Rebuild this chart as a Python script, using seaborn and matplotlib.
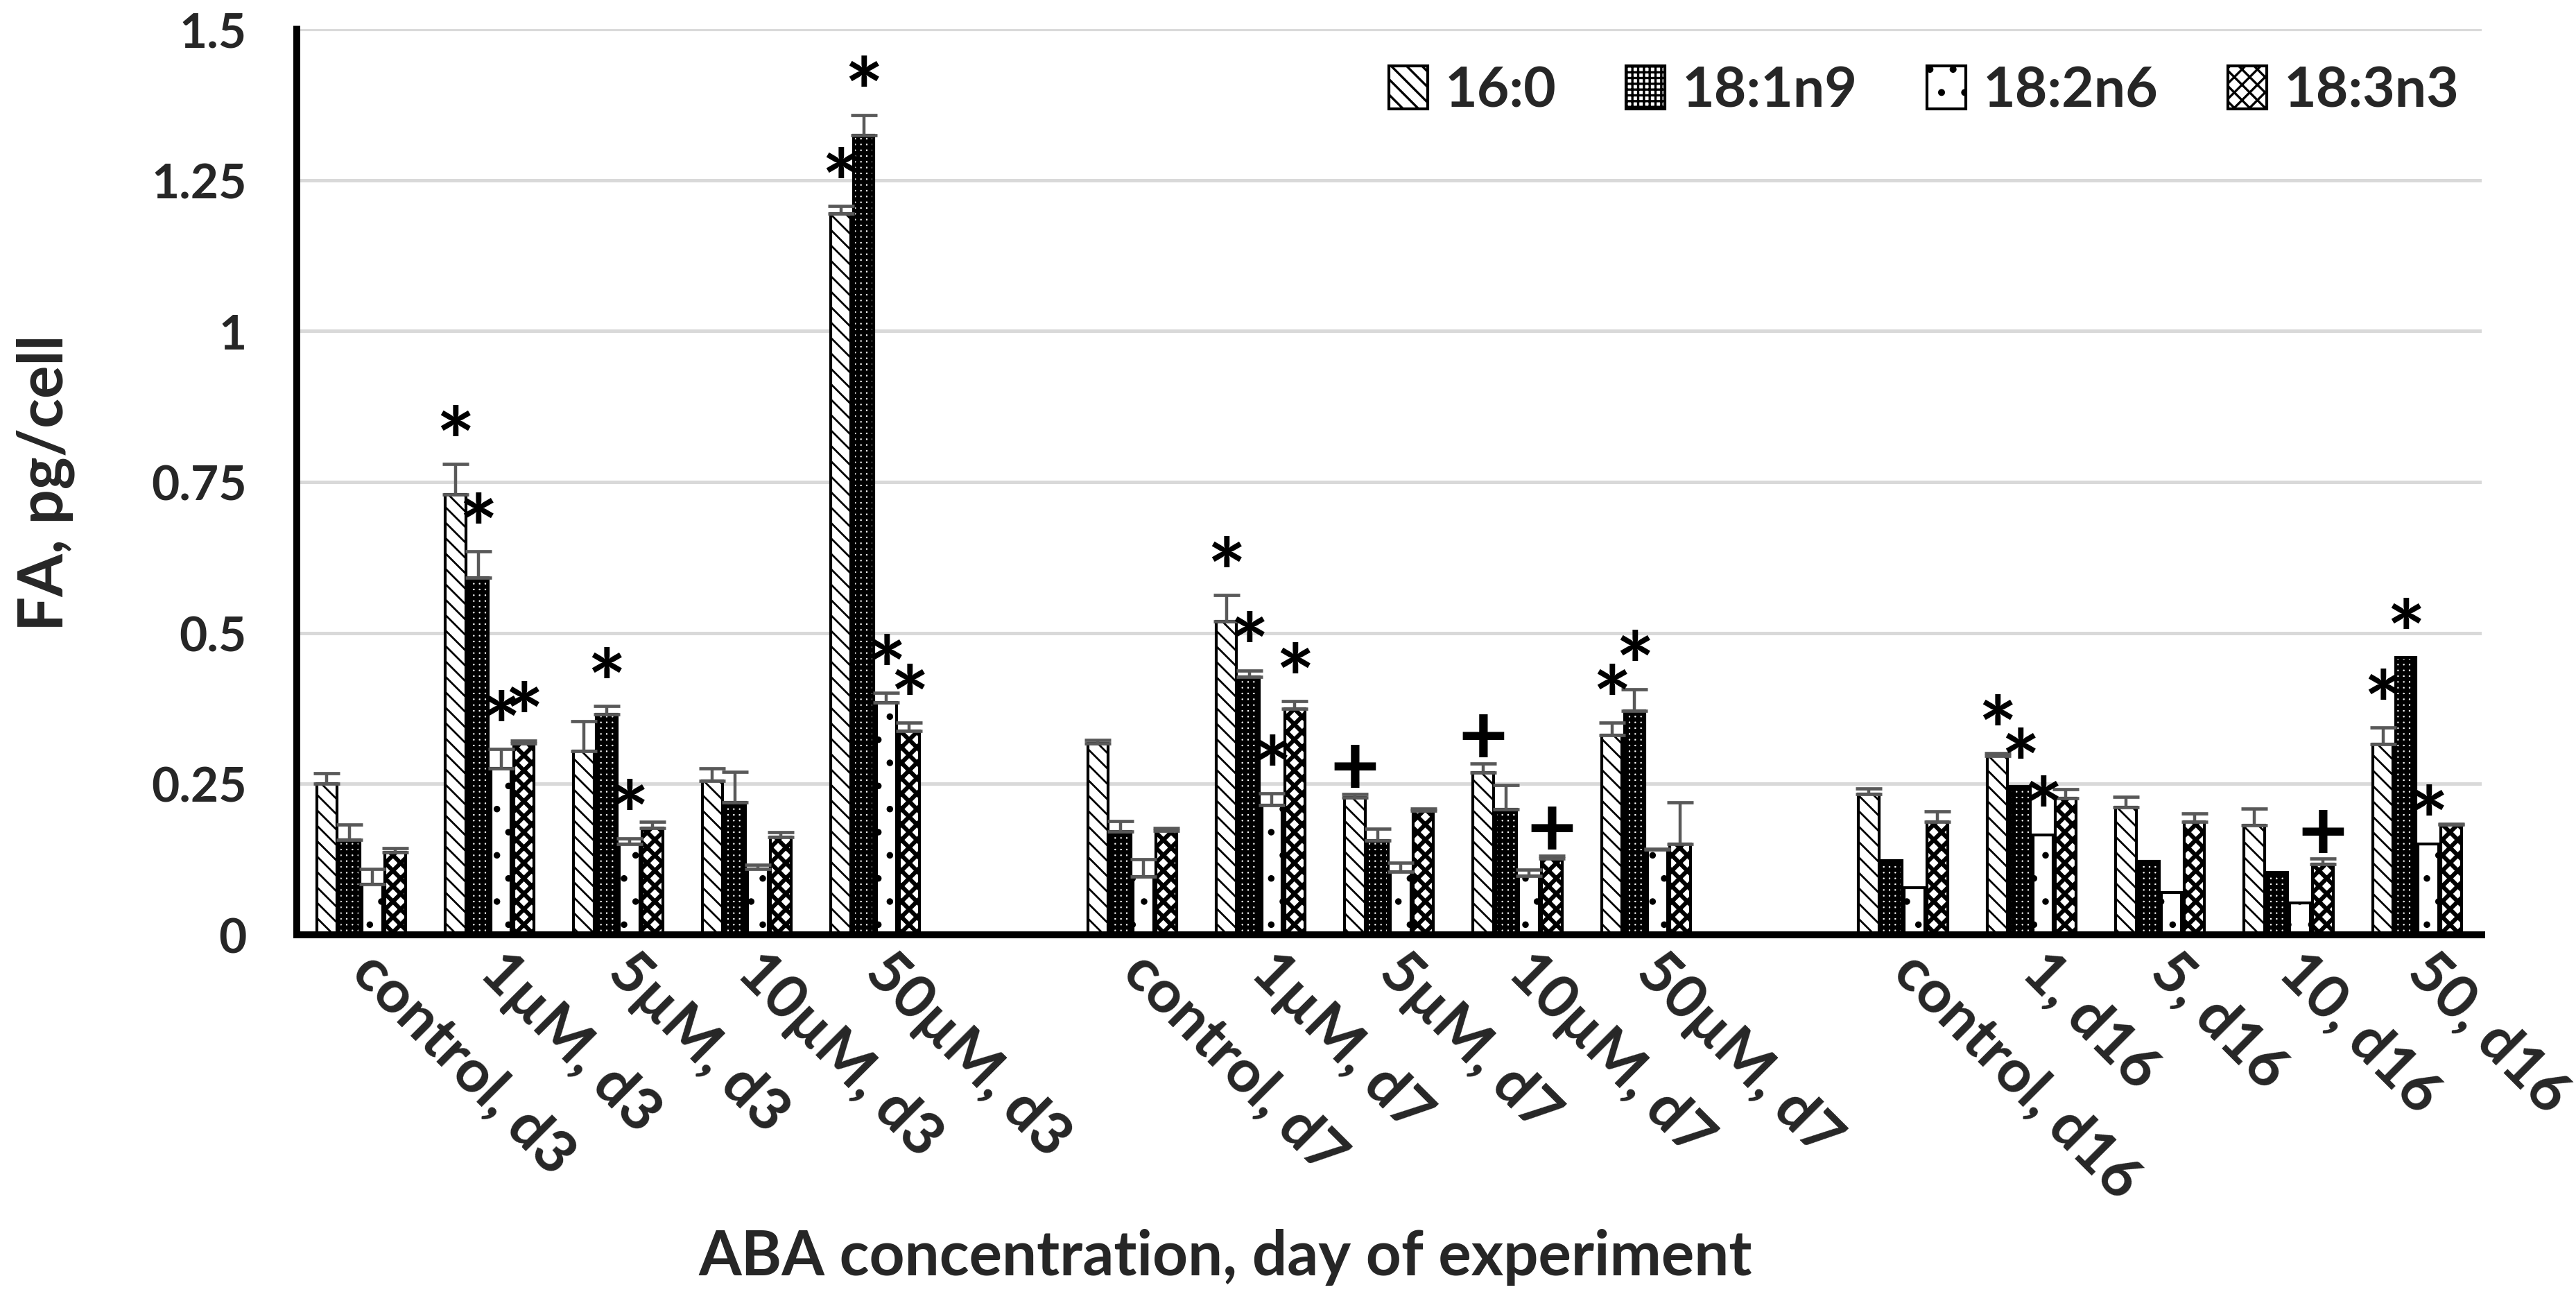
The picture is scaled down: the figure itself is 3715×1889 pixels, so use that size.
""" FA content vs ABA concentration """

import matplotlib
matplotlib.use("Agg")
import matplotlib.pyplot as plt
import numpy as np
import pandas as pd
import seaborn as sns

# x categories (blank slots separate the days)
categories = ["control, d3", "1µM, d3", "5µM, d3", "10µM, d3", "50µM, d3", " ",
              "control, d7", "1µM, d7", "5µM, d7", "10µM, d7", "50µM, d7", "  ",
              "control, d16", "1, d16", "5, d16", "10, d16", "50, d16"]
data_cats = [c for c in categories if c.strip()]

fatty_acids = ["16:0", "18:1n9", "18:2n6", "18:3n3"]

fa_16_0 = [0.25, 0.73, 0.305, 0.255, 1.195, 0.317, 0.519, 0.228, 0.269, 0.331,
           0.233, 0.296, 0.212, 0.182, 0.316]
fa_18_1 = [0.157, 0.592, 0.365, 0.219, 1.324, 0.171, 0.427, 0.156, 0.208, 0.371,
           0.123, 0.246, 0.122, 0.103, 0.46]
fa_18_2 = [0.084, 0.276, 0.15, 0.109, 0.385, 0.096, 0.215, 0.105, 0.098, 0.141,
           0.078, 0.166, 0.07, 0.053, 0.151]
fa_18_3 = [0.137, 0.317, 0.177, 0.162, 0.338, 0.172, 0.375, 0.206, 0.127, 0.15,
           0.187, 0.226, 0.187, 0.117, 0.183]

err_16_0 = [0.018, 0.05, 0.049, 0.021, 0.012, 0.006, 0.044, 0.005, 0.015, 0.02,
            0.01, 0.005, 0.017, 0.027, 0.027]
err_18_1 = [0.026, 0.043, 0.014, 0.051, 0.034, 0.018, 0.011, 0.02, 0.04, 0.036,
            0, 0, 0, 0, 0]
err_18_2 = [0.025, 0.032, 0.01, 0.007, 0.016, 0.029, 0.019, 0.014, 0.01, 0.001,
            0, 0, 0, 0, 0]
err_18_3 = [0.007, 0.005, 0.01, 0.008, 0.013, 0.005, 0.012, 0.003, 0.004, 0.07,
            0.018, 0.015, 0.014, 0.009, 0.001]

# significance marks
mark_16_0 = ["", "*", "", "", "*", "", "*", "+", "+", "*", "", "*", "", "", "*"]
mark_18_1 = ["", "*", "*", "", "*", "", "*", "", "", "*", "", "*", "", "", "*"]
mark_18_2 = ["", "*", "*", "", "*", "", "*", "", "", "", "", "*", "", "", "*"]
mark_18_3 = ["", "*", "", "", "*", "", "*", "", "+", "", "", "", "", "+", ""]

values = [fa_16_0, fa_18_1, fa_18_2, fa_18_3]
errors = [err_16_0, err_18_1, err_18_2, err_18_3]
marks = [mark_16_0, mark_18_1, mark_18_2, mark_18_3]

rows = []
for fa, vals in zip(fatty_acids, values):
    for cat, v in zip(data_cats, vals):
        rows.append({"cat": cat, "fa": fa, "value": v})
df = pd.DataFrame(rows)

sns.set_style("white")
plt.rcParams["font.family"] = ["Lato", "DejaVu Sans"]
plt.rcParams["font.weight"] = "bold"
plt.rcParams["hatch.linewidth"] = 1.2

fig = plt.figure(figsize=(18.58, 9.45), dpi=200)
ax = fig.add_axes([0.1152, 0.2862, 0.963 - 0.1152, 0.9772 - 0.2862])

sns.barplot(data=df, x="cat", y="value", hue="fa", order=categories,
            hue_order=fatty_acids, palette=["white"] * 4, width=0.71, gap=0.1,
            edgecolor="black", linewidth=1.5, ax=ax, legend=False)

hatches = ["\\\\\\", "++++", ".", "xxx"]
hatch_lw = [1.0, 2.2, 1.0, 2.2]
# marker style: (fontsize, offset above error bar)
mark_style = {"*": (48, 0.028), "+": (44, 0.04)}
for cont, hatch, hlw, errs, mks in zip(ax.containers, hatches, hatch_lw, errors, marks):
    xs, tops = [], []
    for p in cont:
        p.set_hatch(hatch)
        if hasattr(p, "set_hatch_linewidth"):
            p.set_hatch_linewidth(hlw)
        p.set_zorder(2)
        xs.append(p.get_x() + p.get_width() / 2)
        tops.append(p.get_height())
    xs = np.array(xs)
    tops = np.array(tops)
    errs = np.array(errs)
    has = errs > 0
    ax.errorbar(xs[has], tops[has], yerr=[np.zeros(has.sum()), errs[has]],
                fmt="none", ecolor="#595959", elinewidth=1.6, capsize=6.7,
                capthick=1.7, zorder=3)
    for x, t, e, m in zip(xs, tops, errs, mks):
        if m:
            size, off = mark_style[m]
            ax.text(x, t + e + off, m, ha="center", va="center",
                    fontsize=size, fontweight="bold", color="black", zorder=4)

ax.set_ylim(0, 1.5)
ax.set_xlim(-0.5, len(categories) - 0.5)
ax.set_yticks([0, 0.25, 0.5, 0.75, 1, 1.25, 1.5])
ax.set_yticklabels(["0", "0.25", "0.5", "0.75", "1", "1.25", "1.5"])
ax.yaxis.grid(True, color="#d9d9d9", linewidth=1.8)
ax.set_axisbelow(True)
ax.tick_params(axis="y", length=0, pad=26, labelsize=25)
ax.tick_params(axis="x", length=0, pad=14, labelsize=31)
for lab in ax.get_xticklabels():
    lab.set_rotation(-45)
    lab.set_ha("left")
    lab.set_va("center")
    lab.set_rotation_mode("anchor")
    lab.set_fontweight("bold")
for lab in ax.get_yticklabels():
    lab.set_fontweight("bold")

sns.despine(ax=ax)
for side in ["left", "bottom"]:
    ax.spines[side].set_linewidth(3.6)
    ax.spines[side].set_color("black")

ax.set_xlabel("ABA concentration, day of experiment", fontsize=32, fontweight="bold")
ax.set_ylabel("FA, pg/cell", fontsize=32, fontweight="bold")
ax.xaxis.set_label_coords(0.425, -0.355)
ax.xaxis.label.set_va("center")
ax.yaxis.set_label_coords(-0.115, 0.5)
ax.yaxis.label.set_va("center")

ax.legend(ax.containers, fatty_acids, loc="upper right", bbox_to_anchor=(1.0, 0.985),
          ncol=4, frameon=False, handlelength=0.7, handleheight=0.8,
          handletextpad=0.3, columnspacing=1.25, borderaxespad=0,
          prop={"weight": "bold", "size": 29})

fig.savefig("out.png", dpi=200)
